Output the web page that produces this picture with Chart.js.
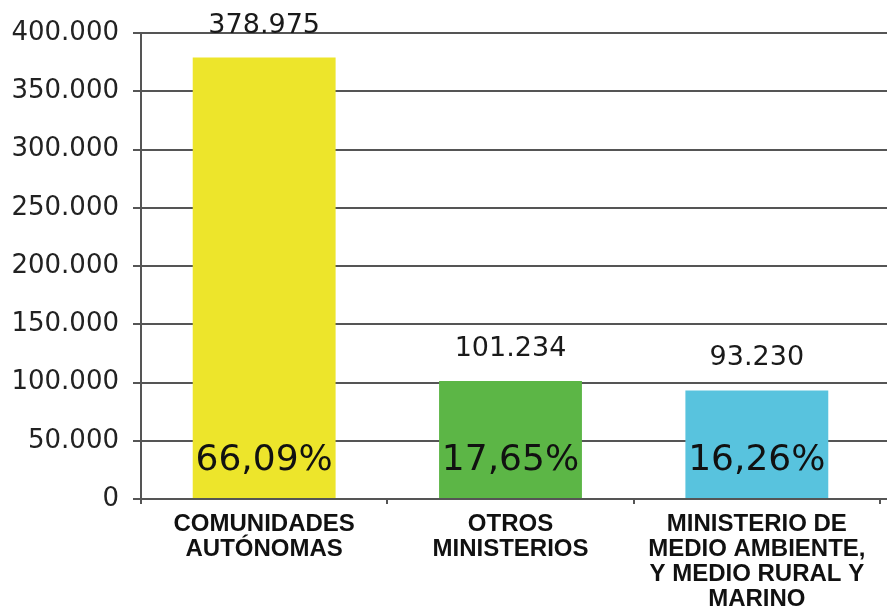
<!DOCTYPE html>
<html>
<head>
<meta charset="utf-8">
<script src="https://cdn.jsdelivr.net/npm/chart.js@4"></script>
<style>
html,body{margin:0;padding:0;background:#fff;}
#wrap{width:887px;height:614px;position:relative;}
</style>
</head>
<body>
<div id="wrap"><canvas id="c"></canvas></div>
<script>
const categories = [
  ["COMUNIDADES", "AUTÓNOMAS"],
  ["OTROS", "MINISTERIOS"],
  ["MINISTERIO DE", "MEDIO AMBIENTE,", "Y MEDIO RURAL Y", "MARINO"]
];
const values = [378975, 101234, 93230];
const percentLabels = ["66,09%", "17,65%", "16,26%"];
const barColors = ["#EDE52B", "#5CB646", "#58C3DE"];
const yTicks = [0, 50000, 100000, 150000, 200000, 250000, 300000, 350000, 400000];

function fmt(n){
  return String(Math.round(n)).replace(/\B(?=(\d{3})+(?!\d))/g, ".");
}

const gridExtend = {
  id: 'gridExtend',
  beforeDatasetsDraw(chart){
    const ctx = chart.ctx;
    const y = chart.scales.y;
    const area = chart.chartArea;
    ctx.save();
    ctx.strokeStyle = '#555';
    ctx.lineWidth = 2;
    y.ticks.forEach(t => {
      const py = Math.round(y.getPixelForValue(t.value));
      ctx.beginPath();
      ctx.moveTo(area.right, py);
      ctx.lineTo(chart.width, py);
      ctx.stroke();
    });
    ctx.restore();
  }
};

const labelPlugin = {
  id: 'labels',
  afterDatasetsDraw(chart){
    const ctx = chart.ctx;
    const meta = chart.getDatasetMeta(0);
    const area = chart.chartArea;
    ctx.save();
    ctx.textAlign = 'center';
    meta.data.forEach((bar, i) => {
      ctx.fillStyle = '#1a1a1a';
      ctx.font = '27px "DejaVu Sans"';
      ctx.textBaseline = 'middle';
      ctx.fillText(fmt(values[i]), bar.x, bar.y - 32);
      ctx.font = '36px "DejaVu Sans"';
      ctx.fillStyle = '#111';
      ctx.fillText(percentLabels[i], bar.x, area.bottom - 38);
    });
    ctx.restore();
  }
};

new Chart(document.getElementById('c'), {
  type: 'bar',
  data: {
    labels: categories,
    datasets: [{
      data: values,
      backgroundColor: barColors,
      borderWidth: 0,
      barPercentage: 0.58,
      categoryPercentage: 1.0
    }]
  },
  options: {
    responsive: true,
    maintainAspectRatio: false,
    animation: false,
    layout: { padding: { top: 33, right: 7, left: 0, bottom: 0 } },
    plugins: { legend: { display: false }, tooltip: { enabled: false } },
    scales: {
      x: {
        grid: { display: true, drawOnChartArea: false, drawTicks: true, tickLength: 5, color: '#555', lineWidth: 2, offset: true },
        border: { display: true, color: '#555', width: 2 },
        ticks: {
          color: '#111',
          font: { family: '"Liberation Sans", Arial', size: 24, weight: 'bold', lineHeight: 25/24 },
          padding: 8,
          maxRotation: 0,
          autoSkip: false
        },
        afterFit(s){ s.height = 115; }
      },
      y: {
        min: 0, max: 400000,
        afterBuildTicks(s){ s.ticks = yTicks.map(v => ({ value: v })); },
        grid: { color: '#555', lineWidth: 2, tickLength: 8, drawTicks: true },
        border: { display: true, color: '#555', width: 2 },
        ticks: {
          color: '#222',
          font: { family: '"DejaVu Sans"', size: 26 },
          padding: 14,
          callback: v => fmt(v)
        },
        afterFit(s){ s.width = 141; }
      }
    }
  },
  plugins: [gridExtend, labelPlugin]
});
</script>
</body>
</html>
